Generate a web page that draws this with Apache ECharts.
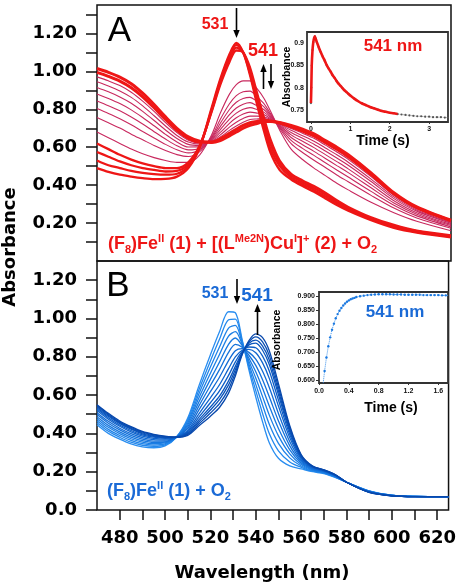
<!DOCTYPE html>
<html><head><meta charset="utf-8">
<script src="https://cdn.jsdelivr.net/npm/echarts@6/dist/echarts.min.js"></script>
<style>html,body{margin:0;padding:0;background:#fff}#c{width:459px;height:588px}</style>
</head><body><div id="c"></div>
<script>
// ---------------- DATA ----------------
const wavelengths = [470,475,480,485,490,495,500,505,510,515,520,524,528,531,534,537,540,543,546,550,555,560,565,570,575,580,590,600,610,625];

// Panel A: initial (531 nm) bundle
const A_X0 = [0.49,0.47,0.455,0.445,0.437,0.432,0.433,0.445,0.49,0.60,0.80,0.96,1.09,1.15,1.10,0.98,0.83,0.69,0.57,0.48,0.43,0.395,0.365,0.33,0.295,0.265,0.215,0.175,0.15,0.125];
const A_X1 = [0.53,0.505,0.49,0.475,0.465,0.458,0.455,0.46,0.50,0.60,0.79,0.95,1.08,1.14,1.10,0.99,0.85,0.71,0.59,0.50,0.44,0.405,0.375,0.34,0.305,0.272,0.22,0.18,0.153,0.128];
const A_X2 = [0.575,0.55,0.525,0.505,0.49,0.48,0.472,0.475,0.51,0.605,0.785,0.94,1.065,1.125,1.10,1.005,0.87,0.735,0.615,0.515,0.45,0.415,0.385,0.35,0.312,0.278,0.225,0.185,0.157,0.131];
const A_X3 = [0.62,0.59,0.56,0.535,0.515,0.50,0.49,0.49,0.52,0.61,0.78,0.93,1.05,1.11,1.10,1.02,0.89,0.76,0.64,0.53,0.46,0.425,0.395,0.36,0.32,0.285,0.23,0.19,0.16,0.135];
// Panel A: intermediate (541 nm) thin spectra
const A_T1 = [0.68,0.65,0.62,0.59,0.565,0.545,0.53,0.52,0.52,0.56,0.66,0.78,0.88,0.93,0.95,0.95,0.91,0.86,0.79,0.69,0.59,0.535,0.49,0.45,0.41,0.375,0.31,0.255,0.21,0.16];
const A_T2 = [0.757,0.729,0.701,0.669,0.639,0.609,0.583,0.561,0.551,0.577,0.652,0.747,0.829,0.872,0.892,0.896,0.867,0.831,0.777,0.699,0.619,0.572,0.531,0.493,0.454,0.418,0.346,0.279,0.227,0.173];
const A_T3 = [0.804,0.778,0.750,0.718,0.683,0.649,0.615,0.587,0.570,0.587,0.647,0.726,0.799,0.837,0.857,0.863,0.842,0.814,0.770,0.705,0.636,0.594,0.557,0.518,0.480,0.443,0.367,0.294,0.238,0.180];
const A_T4 = [0.844,0.819,0.792,0.759,0.722,0.682,0.643,0.608,0.586,0.595,0.643,0.709,0.772,0.807,0.827,0.835,0.819,0.799,0.763,0.710,0.651,0.613,0.578,0.541,0.503,0.466,0.386,0.306,0.247,0.187];
const A_T5 = [0.881,0.857,0.830,0.797,0.757,0.713,0.668,0.628,0.601,0.603,0.639,0.693,0.748,0.780,0.800,0.809,0.799,0.785,0.757,0.714,0.665,0.631,0.598,0.561,0.524,0.486,0.403,0.318,0.255,0.193];
const A_T6 = [0.915,0.892,0.865,0.832,0.789,0.741,0.691,0.646,0.615,0.610,0.635,0.678,0.726,0.755,0.775,0.785,0.780,0.772,0.751,0.718,0.678,0.647,0.616,0.580,0.543,0.505,0.419,0.329,0.263,0.199];
const A_T7 = [0.945,0.923,0.897,0.863,0.818,0.766,0.712,0.662,0.627,0.617,0.632,0.665,0.706,0.732,0.752,0.764,0.764,0.761,0.747,0.722,0.689,0.661,0.632,0.596,0.560,0.521,0.432,0.338,0.269,0.203];
const A_T8 = [0.971,0.950,0.925,0.890,0.843,0.789,0.730,0.677,0.637,0.623,0.630,0.654,0.689,0.712,0.732,0.746,0.749,0.751,0.742,0.725,0.699,0.674,0.647,0.611,0.575,0.536,0.445,0.346,0.275,0.208];
// Panel A: final broad bundle
const A_Y1 = [0.995,0.974,0.949,0.914,0.866,0.808,0.746,0.689,0.647,0.628,0.627,0.644,0.673,0.695,0.715,0.729,0.736,0.742,0.738,0.728,0.708,0.685,0.659,0.624,0.589,0.549,0.456,0.354,0.281,0.212];
const A_Y  = [1.015,0.995,0.97,0.935,0.885,0.825,0.76,0.70,0.655,0.632,0.625,0.635,0.66,0.68,0.70,0.715,0.725,0.735,0.735,0.73,0.715,0.695,0.67,0.635,0.60,0.56,0.465,0.36,0.285,0.215];

// Panel B spectra (531 -> 541)
const B_0  = [0.445,0.40,0.37,0.345,0.33,0.325,0.335,0.38,0.48,0.65,0.81,0.93,1.035,1.03,0.89,0.73,0.59,0.46,0.35,0.27,0.23,0.215,0.20,0.19,0.17,0.145,0.10,0.077,0.071,0.07];
const B_1  = [0.456,0.411,0.380,0.354,0.338,0.332,0.340,0.38,0.471,0.629,0.778,0.891,0.993,0.997,0.882,0.746,0.623,0.504,0.398,0.309,0.251,0.223,0.203,0.192,0.172,0.145,0.099,0.077,0.071,0.07];
const B_2  = [0.466,0.421,0.389,0.363,0.346,0.339,0.345,0.38,0.462,0.608,0.746,0.851,0.95,0.964,0.874,0.761,0.656,0.548,0.446,0.348,0.272,0.23,0.206,0.194,0.173,0.145,0.098,0.076,0.071,0.07];
const B_3  = [0.477,0.432,0.399,0.372,0.354,0.346,0.35,0.38,0.453,0.587,0.714,0.812,0.908,0.931,0.866,0.777,0.689,0.592,0.494,0.387,0.293,0.238,0.209,0.196,0.175,0.145,0.098,0.076,0.071,0.07];
const B_4  = [0.487,0.442,0.408,0.381,0.362,0.353,0.355,0.38,0.444,0.566,0.682,0.772,0.865,0.898,0.858,0.792,0.722,0.636,0.542,0.426,0.314,0.245,0.212,0.198,0.176,0.145,0.097,0.076,0.071,0.07];
const B_5  = [0.498,0.453,0.418,0.39,0.37,0.36,0.36,0.38,0.435,0.545,0.65,0.733,0.823,0.865,0.85,0.808,0.755,0.68,0.59,0.465,0.335,0.253,0.215,0.20,0.178,0.145,0.096,0.076,0.071,0.07];
const B_6  = [0.508,0.463,0.427,0.399,0.378,0.367,0.365,0.38,0.426,0.524,0.618,0.693,0.78,0.832,0.842,0.823,0.788,0.724,0.638,0.504,0.356,0.26,0.218,0.202,0.179,0.145,0.095,0.075,0.07,0.07];
const B_7  = [0.519,0.474,0.437,0.408,0.386,0.374,0.37,0.38,0.417,0.503,0.586,0.654,0.738,0.799,0.834,0.839,0.821,0.768,0.686,0.543,0.377,0.268,0.221,0.204,0.181,0.145,0.094,0.075,0.07,0.07];
const B_8  = [0.527,0.482,0.444,0.415,0.392,0.38,0.374,0.38,0.41,0.486,0.56,0.622,0.703,0.773,0.828,0.851,0.847,0.803,0.724,0.574,0.394,0.274,0.223,0.206,0.182,0.145,0.094,0.075,0.07,0.07];
const B_9  = [0.534,0.489,0.451,0.422,0.398,0.385,0.378,0.38,0.404,0.472,0.538,0.594,0.674,0.75,0.822,0.862,0.871,0.834,0.758,0.602,0.409,0.279,0.226,0.207,0.183,0.145,0.093,0.074,0.07,0.07];
const B_10 = [0.54,0.495,0.456,0.426,0.402,0.388,0.38,0.38,0.399,0.461,0.522,0.576,0.653,0.733,0.818,0.87,0.887,0.856,0.782,0.621,0.419,0.283,0.227,0.208,0.184,0.145,0.093,0.074,0.07,0.07];
const B_11 = [0.545,0.50,0.46,0.431,0.406,0.392,0.383,0.38,0.395,0.45,0.506,0.555,0.631,0.717,0.814,0.877,0.904,0.878,0.806,0.641,0.43,0.286,0.229,0.209,0.184,0.145,0.092,0.074,0.07,0.07];
const B_f  = [0.55,0.505,0.465,0.435,0.41,0.395,0.385,0.38,0.39,0.44,0.49,0.535,0.61,0.70,0.81,0.885,0.92,0.90,0.83,0.66,0.44,0.29,0.23,0.21,0.185,0.145,0.092,0.074,0.07,0.07];

// Inset A: 541 nm kinetic trace
const insetA_time = [0,0.01,0.02,0.04,0.06,0.08,0.1,0.12,0.15,0.2,0.25,0.3,0.35,0.4,0.45,0.5,0.55,0.6,0.65,0.7,0.75,0.8,0.85,0.9,0.95,1.0,1.1,1.2,1.3,1.4,1.5,1.6,1.7,1.8,1.9,2.0,2.1,2.2,2.3,2.4,2.5,2.6,2.7,2.8,2.9,3.0,3.1,3.2,3.3,3.4,3.5];
const insetA_abs  = [0.765,0.80,0.85,0.885,0.903,0.912,0.916,0.911,0.903,0.891,0.880,0.870,0.861,0.851,0.843,0.836,0.828,0.822,0.815,0.809,0.804,0.799,0.794,0.790,0.786,0.782,0.775,0.769,0.764,0.760,0.756,0.753,0.750,0.747,0.745,0.743,0.742,0.740,0.739,0.738,0.737,0.736,0.735,0.735,0.734,0.734,0.733,0.733,0.733,0.732,0.732];
const insetA_fitEnd = 2.25;
// Inset B: 541 nm kinetic trace
const insetB_time = [0.05,0.075,0.1,0.125,0.15,0.175,0.2,0.225,0.25,0.275,0.3,0.325,0.35,0.375,0.4,0.425,0.45,0.475,0.5,0.55,0.6,0.65,0.7,0.75,0.8,0.85,0.9,0.95,1.0,1.05,1.1,1.15,1.2,1.25,1.3,1.35,1.4,1.45,1.5,1.55,1.6,1.65,1.7,1.75];
const insetB_abs  = [0.575,0.633,0.681,0.721,0.753,0.780,0.802,0.821,0.836,0.848,0.858,0.867,0.874,0.880,0.885,0.889,0.892,0.894,0.897,0.900,0.902,0.904,0.905,0.906,0.907,0.907,0.907,0.907,0.906,0.906,0.906,0.905,0.905,0.905,0.905,0.905,0.904,0.904,0.904,0.904,0.904,0.903,0.903,0.903];

// Tick values
const xTicks = [480,490,500,510,520,530,540,550,560,570,580,590,600,610,620];
const xLabels = [480,500,520,540,560,580,600,620];
const yTicksA = [0.1,0.2,0.3,0.4,0.5,0.6,0.7,0.8,0.9,1.0,1.1,1.2,1.3];
const yLabelsA = [0.2,0.4,0.6,0.8,1.0,1.2];
const yTicksB = [0,0.1,0.2,0.3,0.4,0.5,0.6,0.7,0.8,0.9,1.0,1.1,1.2];
const yLabelsB = [0,0.2,0.4,0.6,0.8,1.0,1.2];
const insetA_xLabels = [0,1,2,3];
const insetA_yLabels = [0.75,0.8,0.85,0.9];
const insetB_xLabels = [0,0.4,0.8,1.2,1.6];
const insetB_yLabels = [0.6,0.65,0.7,0.75,0.8,0.85,0.9];

// ---------------- CHART ----------------
const RED = '#ee1616', RED_THIN = '#c8285e', BLUE_TXT = '#1a6ad6';
const chart = echarts.init(document.getElementById('c'), null, {renderer:'canvas'});
const pairs = (xs, ys) => xs.map((x, i) => [x, ys[i]]);
const series = [];
function spec(vals, idx, color, width, z) {
  series.push({type:'line', xAxisIndex:idx, yAxisIndex:idx, data:pairs(wavelengths, vals),
    smooth:0.3, showSymbol:false, silent:true, z:z||2,
    lineStyle:{color:color, width:width}});
}
[A_T1,A_T2,A_T3,A_T4,A_T5,A_T6,A_T7,A_T8].forEach(v => spec(v, 0, RED_THIN, 1.1, 2));
[A_X0,A_X1,A_X2,A_X3].forEach(v => spec(v, 0, RED, 2.3, 3));
[A_Y1,A_Y].forEach(v => spec(v, 0, RED, 3, 3));
const bSet = [B_0,B_1,B_2,B_3,B_4,B_5,B_6,B_7,B_8,B_9,B_10,B_11,B_f];
const bCols = ['#2a8ef0','#2388ec','#1f83e8','#1b7ee4','#1878df','#1572da','#126bd4','#0f64cd','#0d5dc6','#0b57bf','#0a52b8','#094db2','#0848ac'];
bSet.forEach((v, i) => spec(v, 1, bCols[i], 1.3, 2));

// insets
series.push({type:'line', xAxisIndex:2, yAxisIndex:2, data:pairs(insetA_time, insetA_abs), showSymbol:true,
  symbol:'circle', symbolSize:2.2, itemStyle:{color:'#555'}, lineStyle:{color:'#777', width:0.8, type:'dotted'}, silent:true, z:4});
series.push({type:'line', xAxisIndex:2, yAxisIndex:2,
  data:pairs(insetA_time, insetA_abs).filter(p => p[0] <= insetA_fitEnd), showSymbol:false,
  lineStyle:{color:RED, width:2.6}, smooth:0.2, silent:true, z:5});
series.push({type:'line', xAxisIndex:3, yAxisIndex:3, data:pairs(insetB_time, insetB_abs), showSymbol:true,
  symbol:'circle', symbolSize:2.4, itemStyle:{color:'#1a78e0'}, lineStyle:{color:'#3a90ea', width:1, type:'dotted'}, silent:true, z:4});

const FONT_AX = {fontFamily:'DejaVu Sans', fontWeight:'bold', fontSize:18, color:'#000'};
const tickStyle = {color:'#111', width:1.5};
const smallLab = {fontFamily:'Liberation Sans', fontWeight:'bold', fontSize:7, color:'#111'};

const option = {
  animation:false,
  backgroundColor:'#fff',
  grid:[
    {left:97, top:5, width:354, height:256, show:true, borderColor:'#111', borderWidth:1.5, backgroundColor:'transparent'},
    {left:97, top:261, width:354, height:249, show:true, borderColor:'#111', borderWidth:1.5, backgroundColor:'transparent'},
    {left:307, top:32, width:141, height:90, show:true, borderColor:'#333', borderWidth:1.8, backgroundColor:'#fff', z:3},
    {left:319, top:292, width:129, height:91, show:true, borderColor:'#333', borderWidth:1.8, backgroundColor:'#fff', z:3}
  ],
  xAxis:[
    {gridIndex:0, type:'value', min:470, max:625, axisLine:{show:false}, axisTick:{show:false}, axisLabel:{show:false}, splitLine:{show:false}},
    {gridIndex:1, type:'value', min:470, max:625, axisLine:{show:false}, splitLine:{show:false},
      axisTick:{show:true, customValues:xTicks, length:10, lineStyle:tickStyle},
      axisLabel:Object.assign({customValues:xLabels, margin:19}, FONT_AX)},
    {gridIndex:2, type:'value', min:-0.1, max:3.48, axisLine:{show:false}, splitLine:{show:false},
      axisTick:{show:true, customValues:insetA_xLabels, length:2, lineStyle:{color:'#333'}},
      axisLabel:Object.assign({customValues:insetA_xLabels, margin:4}, smallLab)},
    {gridIndex:3, type:'value', min:0, max:1.73, axisLine:{show:false}, splitLine:{show:false},
      axisTick:{show:true, customValues:insetB_xLabels, length:2, lineStyle:{color:'#333'}},
      axisLabel:Object.assign({customValues:insetB_xLabels, margin:5, formatter:v => v.toFixed(1)}, smallLab)}
  ],
  yAxis:[
    {gridIndex:0, type:'value', min:0, max:1.35, axisLine:{show:false}, splitLine:{show:false},
      axisTick:{show:true, customValues:yTicksA, length:11, lineStyle:tickStyle},
      axisLabel:Object.assign({customValues:yLabelsA, margin:20, formatter:v => v.toFixed(2)}, FONT_AX)},
    {gridIndex:1, type:'value', min:0, max:1.3, axisLine:{show:false}, splitLine:{show:false},
      axisTick:{show:true, customValues:yTicksB, length:11, lineStyle:tickStyle},
      axisLabel:Object.assign({customValues:yLabelsB, margin:20, formatter:v => v === 0 ? '0.0' : v.toFixed(2)}, FONT_AX)},
    {gridIndex:2, type:'value', min:0.722, max:0.926, axisLine:{show:false}, splitLine:{show:false},
      axisTick:{show:true, customValues:insetA_yLabels, length:2, lineStyle:{color:'#333'}},
      axisLabel:Object.assign({customValues:insetA_yLabels, margin:3}, smallLab)},
    {gridIndex:3, type:'value', min:0.59, max:0.915, axisLine:{show:false}, splitLine:{show:false},
      axisTick:{show:true, customValues:insetB_yLabels, length:3, lineStyle:{color:'#333'}},
      axisLabel:Object.assign({customValues:insetB_yLabels, margin:4, formatter:v => v.toFixed(3)}, smallLab)}
  ],
  series:series,
  graphic:[]
};

function txt(x, y, text, font, fill, extra) {
  return Object.assign({type:'text', x:x, y:y, silent:true, z:100,
    style:{text:text, font:font, fill:fill, align:'center', verticalAlign:'middle'}}, extra || {});
}
function arrow(x, y1, y2, color) {
  const s = y2 > y1 ? 1 : -1;
  return {type:'group', silent:true, z:100, children:[
    {type:'line', shape:{x1:x, y1:y1, x2:x, y2:y2 - s*5}, style:{stroke:color, lineWidth:1.6}, z:100},
    {type:'polygon', shape:{points:[[x-3.2, y2 - s*8],[x+3.2, y2 - s*8],[x, y2]]}, style:{fill:color}, z:100}
  ]};
}
const LS = '"Liberation Sans"';
const richSub = (c) => ({
  sub:{fontSize:11, fontWeight:'bold', fontFamily:'Liberation Sans', fill:c, lineHeight:12, verticalAlign:'bottom'},
  sup:{fontSize:11, fontWeight:'bold', fontFamily:'Liberation Sans', fill:c, lineHeight:12, verticalAlign:'top'}
});
const g = option.graphic;
g.push(txt(119.5, 31, 'A', '35px ' + LS, '#000'));
g.push(txt(118, 286, 'B', '35px ' + LS, '#000'));
g.push(txt(215, 25, '531', 'bold 16px ' + LS, RED));
g.push(arrow(236.5, 8, 38, '#000'));
g.push(txt(263, 51, '541', 'bold 18px ' + LS, RED));
g.push(arrow(263.5, 89, 64, '#000'));
g.push(arrow(271, 64, 89, '#000'));
g.push({type:'text', x:108, y:244, silent:true, z:100, style:{
  text:'(F{sub|8})Fe{sup|II} (1) + [(L{sup|Me2N})Cu{sup|I}]{sup|+} (2) + O{sub|2}',
  font:'bold 18px ' + LS, fill:RED, align:'left', verticalAlign:'middle', lineHeight:22, rich:richSub(RED)}});
g.push(txt(215, 294, '531', 'bold 16px ' + LS, BLUE_TXT));
g.push(arrow(237, 279, 304, '#000'));
g.push(txt(257, 296, '541', 'bold 19px ' + LS, BLUE_TXT));
g.push(arrow(257.5, 335, 304, '#000'));
g.push({type:'text', x:107, y:491, silent:true, z:100, style:{
  text:'(F{sub|8})Fe{sup|II} (1) + O{sub|2}',
  font:'bold 18px ' + LS, fill:BLUE_TXT, align:'left', verticalAlign:'middle', lineHeight:22, rich:richSub(BLUE_TXT)}});
g.push(txt(287.5, 77, 'Absorbance', 'bold 10.5px ' + LS, '#000', {rotation:Math.PI/2}));
g.push(txt(383, 141, 'Time (s)', 'bold 14px ' + LS, '#000'));
g.push(txt(393, 46.5, '541 nm', 'bold 17px ' + LS, RED));
g.push(txt(277.5, 340, 'Absorbance', 'bold 10.5px ' + LS, '#000', {rotation:Math.PI/2}));
g.push(txt(391, 408, 'Time (s)', 'bold 14px ' + LS, '#000'));
g.push(txt(395, 312, '541 nm', 'bold 17px ' + LS, BLUE_TXT));
g.push(txt(10, 247, 'Absorbance', 'bold 18px "DejaVu Sans"', '#000', {rotation:Math.PI/2}));
g.push(txt(262, 573, 'Wavelength (nm)', 'bold 18px "DejaVu Sans"', '#000'));

chart.setOption(option);
</script>
</body></html>
